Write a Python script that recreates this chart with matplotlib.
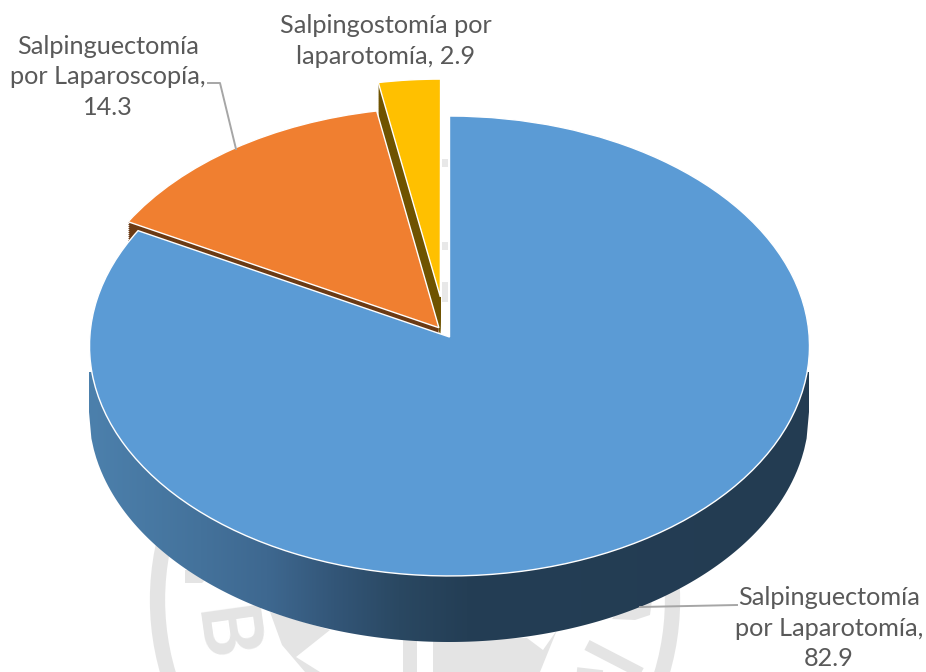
import numpy as np
import matplotlib
matplotlib.use('Agg')
import matplotlib.pyplot as plt
from matplotlib.colors import LinearSegmentedColormap
from matplotlib.patches import Polygon, Rectangle, Arc
from matplotlib.transforms import Affine2D, Transform

plt.rcParams['font.family'] = ['Lato', 'DejaVu Sans']

# Data
labels = ['Salpinguectomía\npor Laparotomía,\n82.9',
          'Salpinguectomía\npor Laparoscopía,\n14.3',
          'Salpingostomía por\nlaparotomía, 2.9']
values = [82.9, 14.3, 2.9]
explode = [0.0, 0.05, 0.19]
colors = ['#5B9BD5', '#F07F30', '#FFC000']
side_colors = ['none', '#6B3A14', '#6F5300']


class Tilt(Transform):
    # unit circle -> tilted disc in pixel coords, far side is shrunk a bit
    input_dims = 2
    output_dims = 2

    def transform_non_affine(self, xy):
        xy = np.asarray(xy, dtype=float)
        w = 1 + 0.0391 * xy[:, 1]
        return np.column_stack([449.5 + 359.7 * xy[:, 0] / w,
                                337.0 - 229.6 * xy[:, 1] / w])


fig = plt.figure(figsize=(9.26, 6.72), dpi=100)
ax = fig.add_axes([0, 0, 1, 1])
tilt = Tilt()

# Side faces of the two pulled out slices: stacked copies going down
for d in range(1, 41, 2):
    side, _ = ax.pie(values, explode=explode, colors=side_colors, startangle=90,
                     counterclock=False, radius=1)
    side[0].set_visible(False)
    side[1].set_transform(tilt + Affine2D().translate(0, min(d, 30)) + ax.transData)
    side[2].set_transform(tilt + Affine2D().translate(-3, 3 + d) + ax.transData)
    side[2].set_zorder(3)
    side[1].set_zorder(5)

top, _ = ax.pie(values, explode=explode, colors=colors, startangle=90,
                counterclock=False, radius=1,
                wedgeprops={'edgecolor': 'white', 'linewidth': 1.0})
top[0].set_transform(tilt + ax.transData)
top[1].set_transform(tilt + ax.transData)
top[2].set_transform(tilt + Affine2D().translate(-3, 3) + ax.transData)
top[2].set_zorder(4)
top[1].set_zorder(6)
top[0].set_zorder(8)

# Side wall of the big slice, gradient clipped to the band under the disc
xs = np.linspace(89, 809, 300)
ys = 412 + 230 * np.sqrt(np.clip(1 - ((xs - 449) / 360) ** 2, 0, 1))
band = Polygon(np.vstack([[[89, 372]], np.column_stack([xs, ys]), [[809, 372]]]),
               transform=ax.transData)
wall_cmap = LinearSegmentedColormap.from_list('wall', [
    (0.0, '#4C80AC'), (0.154, '#44729B'), (0.247, '#3E6890'),
    (0.34, '#335678'), (0.43, '#2A4862'), (0.525, '#243E55'), (1.0, '#233C52')])
im = ax.imshow(np.linspace(0, 1, 256).reshape(1, -1), cmap=wall_cmap,
               extent=(89, 809, 660, 340), aspect='auto', zorder=7)
im.set_clip_path(band)

ax.set_aspect('auto')
ax.set_xlim(0, 926)
ax.set_ylim(672, 0)
ax.axis('off')

# Faint watermark behind the chart
mark = '#E4E4E4'
ax.add_patch(Arc((415, 600), 515, 515, lw=11, ec=mark, zorder=1))
ax.add_patch(Polygon([(270, 612), (330, 630), (296, 657), (320, 672), (305, 672),
                      (282, 645)], fc=mark, ec='none', zorder=1))
ax.add_patch(Polygon([(185, 570), (215, 570), (202, 583), (185, 583)],
                     fc=mark, ec='none', zorder=1))
ax.add_patch(Rectangle((403, 640), 14, 32, fc=mark, ec='none', zorder=1))
ax.add_patch(Polygon([(433, 640), (527, 638), (543, 650), (557, 630), (540, 672), (433, 672)],
                     fc=mark, ec='none', zorder=1))
ax.plot([587, 645], [645, 675], color=mark, lw=8, solid_capstyle='butt', zorder=1)
ax.plot([577, 620], [670, 675], color=mark, lw=4, solid_capstyle='butt', zorder=1)
ax.add_patch(Polygon([(625, 600), (652, 600), (650, 615), (635, 620), (612, 619)],
                     fc=mark, ec='none', zorder=1))
ax.text(220, 635, 'B', color=mark, fontsize=60, fontweight='bold', rotation=-82,
        ha='center', va='center', zorder=1)
for y0, h in [(159, 8), (242, 8), (282, 20)]:
    ax.add_patch(Rectangle((442, y0), 6, h, fc='#E8E8E8', ec='none', zorder=1))

# Labels and leader lines
text_color = '#595959'
for lab, x, y in zip(labels, [829, 108, 386], [628, 77, 41]):
    ax.text(x, y, lab, color=text_color, fontsize=18.2, ha='center', va='center',
            linespacing=1.4, zorder=10)
ax.plot([737, 640], [605, 607], color='#A6A6A6', lw=1.4, zorder=9)
ax.plot([208, 220, 236], [83, 83, 149], color='#A6A6A6', lw=1.4, zorder=9)

fig.savefig('out.png', dpi=100)
